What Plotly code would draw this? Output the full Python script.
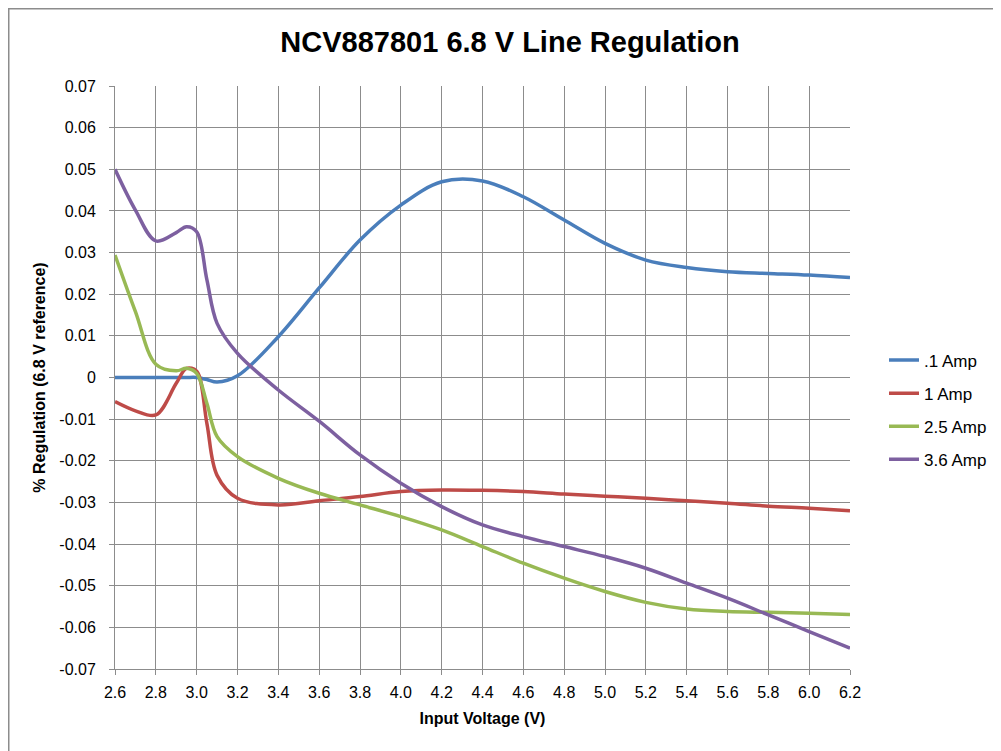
import plotly.graph_objects as go

x = [2.6, 2.7, 2.8, 2.9, 2.95, 3.0, 3.05, 3.1, 3.2, 3.4, 3.6, 3.8, 4.0, 4.2,
     4.4, 4.6, 4.8, 5.0, 5.2, 5.4, 5.6, 5.8, 6.0, 6.2]

amp_01 = [0.0, 0.0, 0.0, 0.0, 0.0, 0.0, -0.0005, -0.0011, 0.0004, 0.0098, 0.0215,
          0.033, 0.0414, 0.047, 0.0472, 0.0434, 0.0378, 0.0322, 0.0282, 0.0264,
          0.0254, 0.025, 0.0246, 0.024]
amp_1 = [-0.0058, -0.0080, -0.0090, -0.0014, 0.0022, 0.0015, -0.011, -0.0235,
         -0.029, -0.0306, -0.0296, -0.0286, -0.0274, -0.027, -0.0271, -0.0274,
         -0.028, -0.0285, -0.029, -0.0296, -0.0302, -0.0309, -0.0314, -0.032]
amp_25 = [0.0294, 0.0158, 0.0032, 0.0016, 0.0022, 0.001, -0.0062, -0.0142,
          -0.019, -0.0242, -0.0278, -0.0306, -0.0334, -0.0366, -0.0406, -0.0446,
          -0.0482, -0.0514, -0.054, -0.0556, -0.0562, -0.0564, -0.0566, -0.0569]
amp_36 = [0.05, 0.0402, 0.0328, 0.0348, 0.0362, 0.035, 0.0235, 0.013, 0.0058,
          -0.003, -0.0105, -0.0186, -0.0254, -0.031, -0.0354, -0.0382, -0.0406,
          -0.043, -0.0458, -0.0494, -0.053, -0.057, -0.061, -0.065]

names = [".1 Amp", "1 Amp", "2.5 Amp", "3.6 Amp"]
colors = ["#4A7EBB", "#BE4B48", "#98B954", "#7D60A0"]
series = [amp_01, amp_1, amp_25, amp_36]

x_ticks = [2.6 + 0.2 * i for i in range(19)]
x_tick_labels = [f"{v:.1f}" for v in x_ticks]
y_ticks = [round(-0.07 + 0.01 * i, 2) for i in range(15)]
y_tick_labels = ["0" if abs(v) < 1e-9 else f"{v:.2f}" for v in y_ticks]

FONT = "Liberation Sans"
L, T, PW, PH = 107, 78, 735, 583

fig = go.Figure()
for i, (name, col, ys) in enumerate(zip(names, colors, series)):
    fig.add_trace(go.Scatter(
        x=x, y=ys, name=name, mode="lines", legendgroup=f"g{i}",
        line=dict(color=col, width=3.5, shape="spline", smoothing=1.0),
    ))

fig.update_layout(
    width=1001, height=751,
    margin=dict(l=L, r=1001 - L - PW, t=T, b=751 - T - PH),
    paper_bgcolor="white", plot_bgcolor="white",
    font=dict(family=FONT, size=16, color="black"),
    title=dict(text="<b>NCV887801 6.8 V Line Regulation</b>",
               x=502 / 1001, xanchor="center", y=1 - 34 / 751, yanchor="middle",
               font=dict(family=FONT, size=29, color="black")),
    legend=dict(x=(876 - L) / PW, xanchor="left", y=(T + PH - 402) / PH, yanchor="middle",
                font=dict(family=FONT, size=17), tracegroupgap=8,
                bgcolor="rgba(0,0,0,0)"),
    showlegend=True,
)

fig.update_xaxes(
    range=[2.6, 6.2], tickvals=x_ticks, ticktext=x_tick_labels,
    showgrid=True, gridcolor="#8C8C8C", gridwidth=1,
    showline=True, linecolor="#8C8C8C", linewidth=1,
    ticks="outside", ticklen=5, tickcolor="#8C8C8C", ticklabelstandoff=4,
    tickfont=dict(family=FONT, size=16), zeroline=False,
    title=dict(text="<b>Input Voltage (V)</b>", font=dict(family=FONT, size=16), standoff=12),
)
fig.update_yaxes(
    range=[-0.07, 0.07], tickvals=y_ticks, ticktext=y_tick_labels,
    showgrid=True, gridcolor="#8C8C8C", gridwidth=1,
    showline=True, linecolor="#8C8C8C", linewidth=1,
    ticks="outside", ticklen=5, tickcolor="#8C8C8C", ticklabelstandoff=10,
    tickfont=dict(family=FONT, size=16), zeroline=False,
    title=dict(text="<b>% Regulation (6.8 V reference)</b>", font=dict(family=FONT, size=16), standoff=9),
)

# outer chart border
fig.add_shape(type="rect", xref="paper", yref="paper",
              x0=(0.75 - L) / PW, x1=(1010 - L) / PW,
              y0=(T + PH - 760) / PH, y1=(T + PH - 0.75) / PH,
              line=dict(color="#8C8C8C", width=1.5), fillcolor="rgba(0,0,0,0)", layer="below")

fig.write_html("out.html")
